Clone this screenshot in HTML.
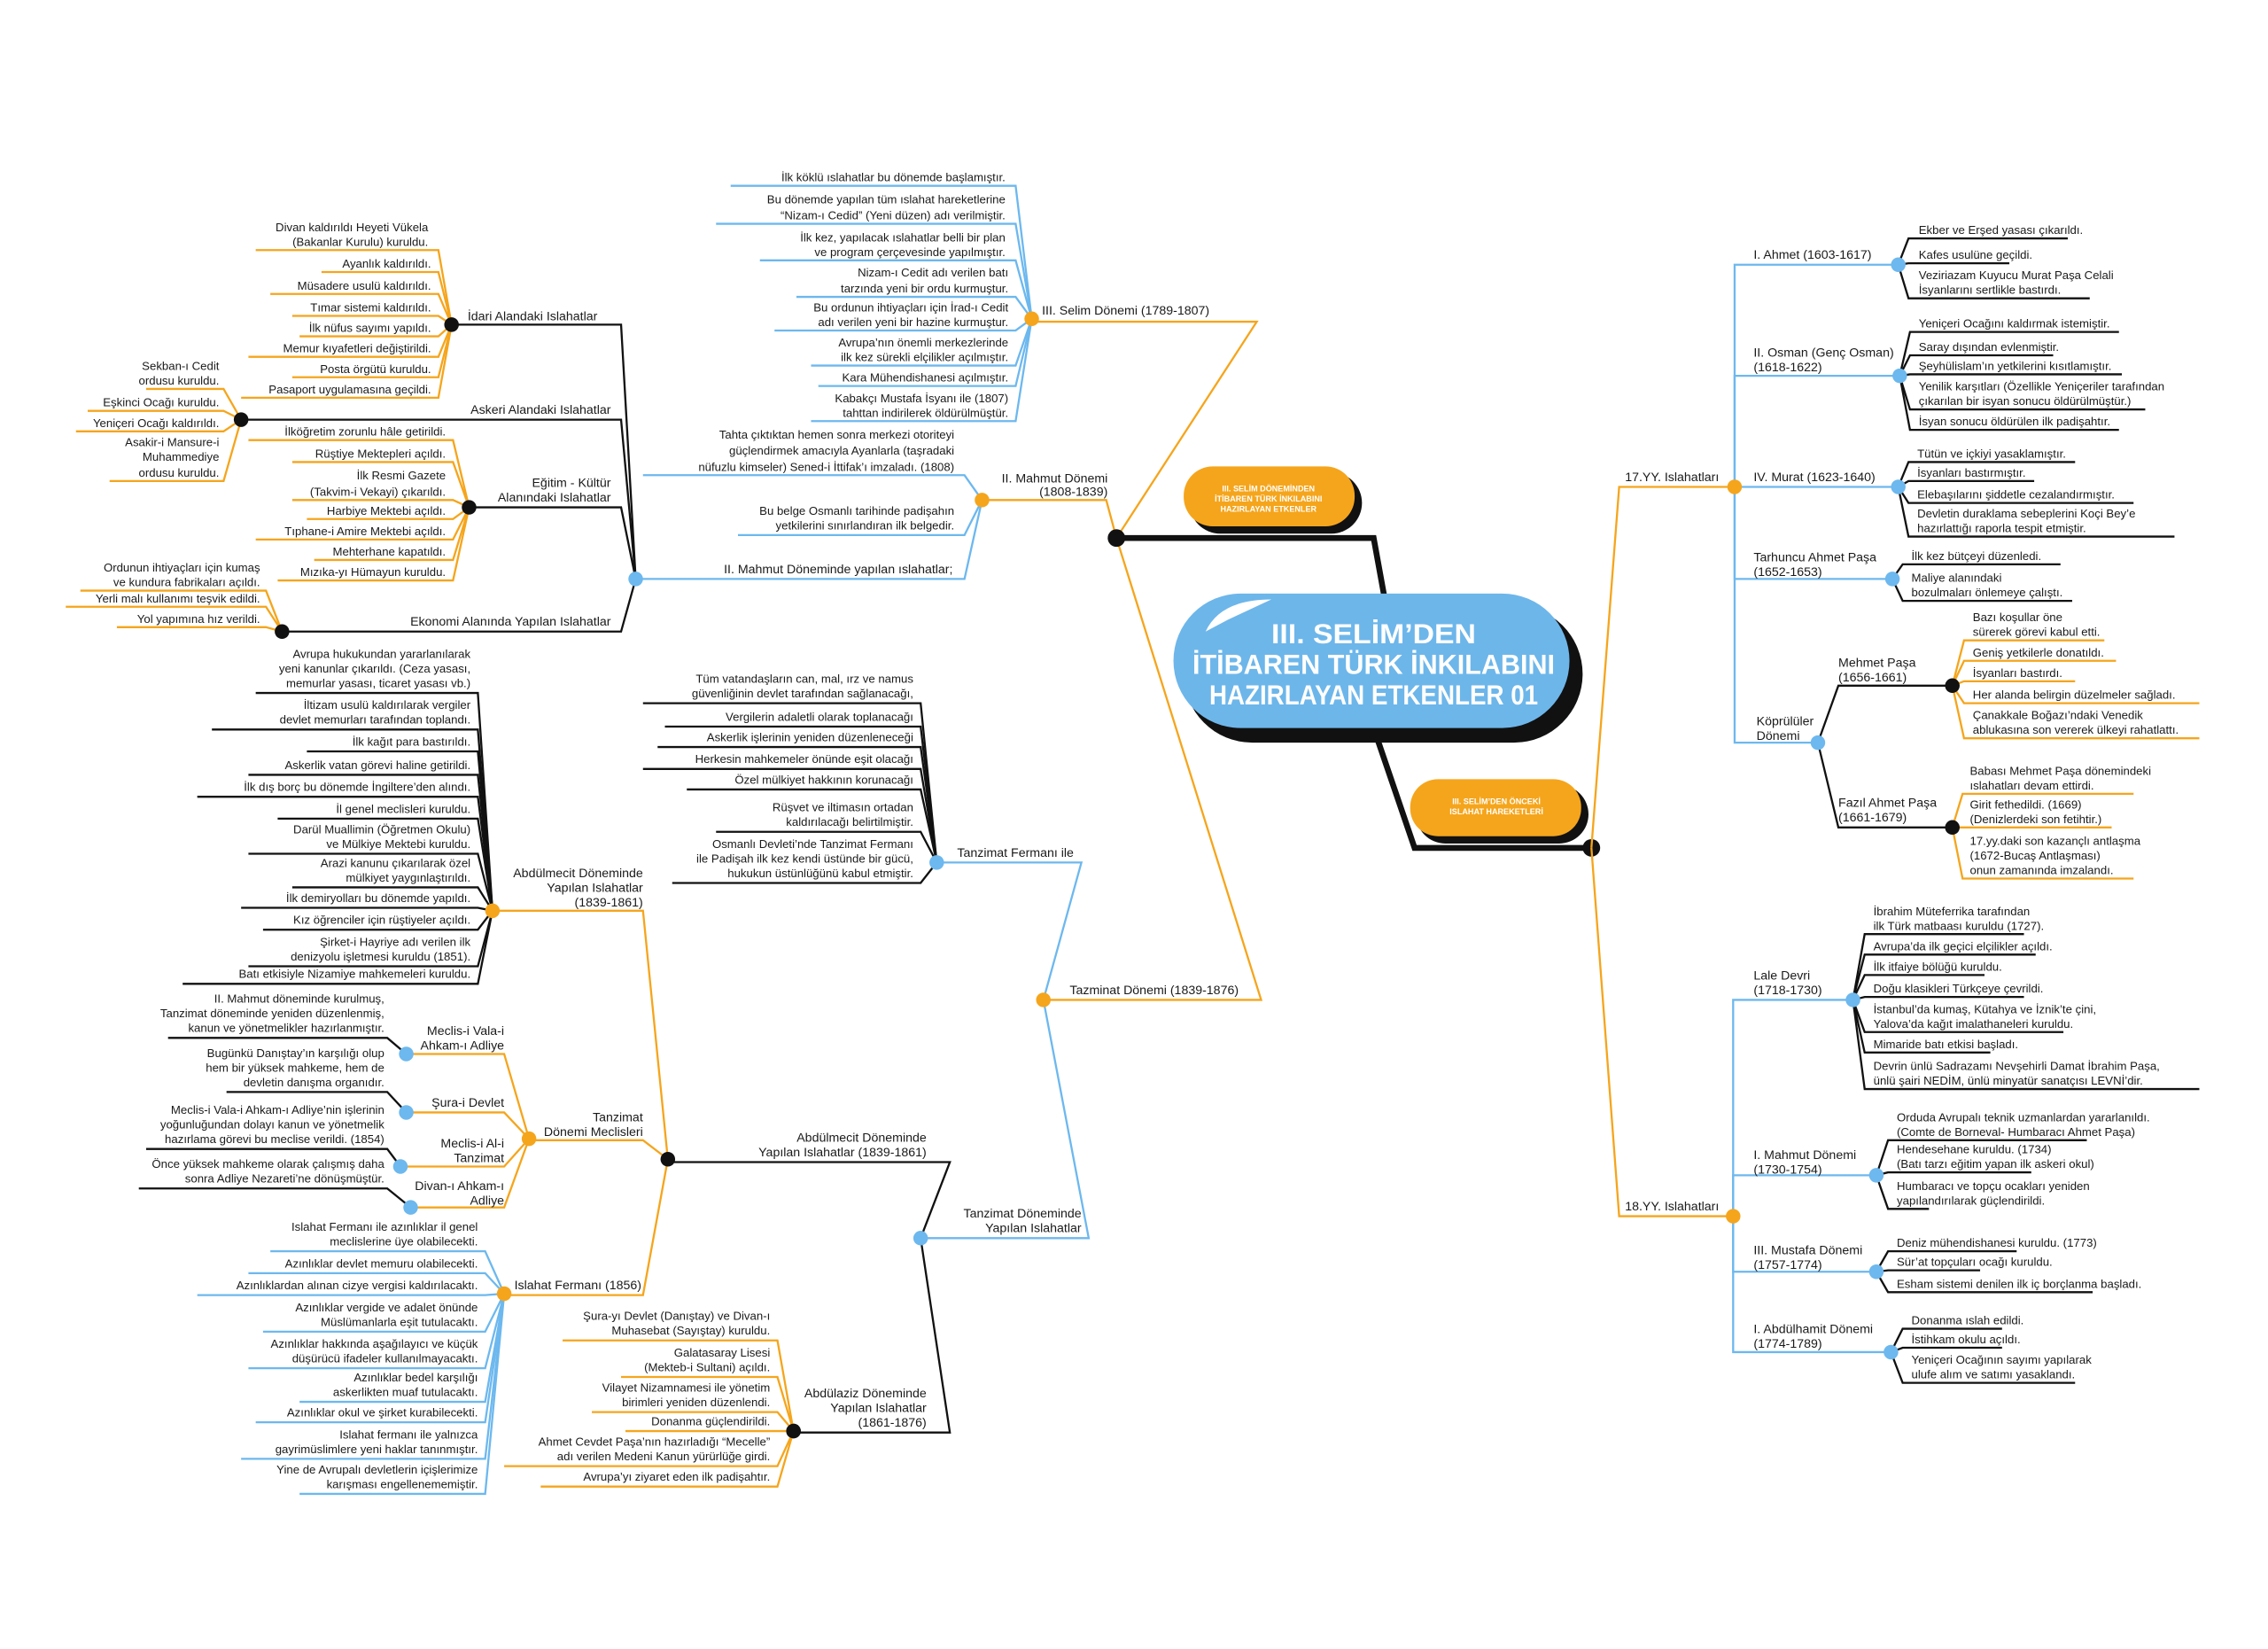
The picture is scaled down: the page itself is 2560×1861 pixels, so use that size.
<!DOCTYPE html>
<html><head><meta charset="utf-8"><style>
html,body{margin:0;padding:0;background:#fff;}
svg{display:block;}
text{font-family:"Liberation Sans",sans-serif;font-size:8px;fill:#1a1a1a;}
.l{font-size:8.6px;}
.e{text-anchor:end;}
.b{stroke:#6db8ee;fill:none;stroke-width:1.4;}
.o{stroke:#f5a51c;fill:none;stroke-width:1.4;}
.k{stroke:#111;fill:none;stroke-width:1.4;}
.K{stroke:#111;fill:none;stroke-width:4;}
.db{fill:#6db8ee;} .do{fill:#f5a51c;} .dk{fill:#111;}
.w{fill:#fff;font-weight:bold;text-anchor:middle;}
</style></head><body>
<svg width="2560" height="1861" viewBox="0 0 1552 1128" xmlns="http://www.w3.org/2000/svg">
<rect width="1552" height="1128" fill="#fff"/>

<!-- central connectors -->
<path class="o" d="M706 220 H860 L764 368"/>
<path class="o" d="M672 342 H757 L764 368"/>
<path class="o" d="M714 684 H863 L764 368"/>
<path class="K" d="M764 368 H940 L948 412"/>
<path class="K" d="M940 498 L968 580 H1089"/>
<circle class="dk" cx="764" cy="368" r="6"/>
<circle class="dk" cx="1089" cy="580" r="6"/>

<!-- central bubble -->
<rect x="810" y="414" width="273" height="94" rx="47" fill="#111"/>
<rect x="803" y="406" width="271" height="92" rx="46" fill="#6db6ea"/>
<path d="M825 432 Q835 410 870 410 L840 424 Z" fill="#fff"/>
<text class="w" x="940" y="440" style="font-size:19px" textLength="140" lengthAdjust="spacingAndGlyphs">III. SELİM’DEN</text>
<text class="w" x="940" y="461" style="font-size:19px" textLength="248" lengthAdjust="spacingAndGlyphs">İTİBAREN TÜRK İNKILABINI</text>
<text class="w" x="940" y="482" style="font-size:19px" textLength="225" lengthAdjust="spacingAndGlyphs">HAZIRLAYAN ETKENLER 01</text>

<rect x="814" y="323" width="118" height="42" rx="21" fill="#111"/>
<rect x="810" y="319" width="117" height="41" rx="20" fill="#f5a51c"/>
<text class="w" x="868" y="336" style="font-size:5.5px">III. SELİM DÖNEMİNDEN</text>
<text class="w" x="868" y="343" style="font-size:5.5px">İTİBAREN TÜRK İNKILABINI</text>
<text class="w" x="868" y="350" style="font-size:5.5px">HAZIRLAYAN ETKENLER</text>

<rect x="969" y="537" width="118" height="40" rx="20" fill="#111"/>
<rect x="965" y="533" width="117" height="39" rx="19" fill="#f5a51c"/>
<text class="w" x="1024" y="550" style="font-size:5.5px">III. SELİM’DEN ÖNCEKİ</text>
<text class="w" x="1024" y="557" style="font-size:5.5px">ISLAHAT HAREKETLERİ</text>

<!-- III. Selim -->
<text class="l" x="713" y="215">III. Selim Dönemi (1789-1807)</text>
<g class="b">
<path d="M500 127 H695 L706 218"/><path d="M490 153 H695 L706 218"/><path d="M520 178 H695 L706 218"/>
<path d="M545 203 H695 L706 218"/><path d="M530 226 H695 L706 218"/><path d="M555 250 H695 L706 218"/>
<path d="M560 264 H695 L706 218"/><path d="M555 288 H695 L706 218"/></g>
<g class="e">
<text class="e" x="688" y="124">İlk köklü ıslahatlar bu dönemde başlamıştır.</text>
<text class="e" x="688" y="139">Bu dönemde yapılan tüm ıslahat hareketlerine</text>
<text class="e" x="688" y="150">“Nizam-ı Cedid” (Yeni düzen) adı verilmiştir.</text>
<text class="e" x="688" y="165">İlk kez, yapılacak ıslahatlar belli bir plan</text>
<text class="e" x="688" y="175">ve program çerçevesinde yapılmıştır.</text>
<text class="e" x="690" y="189">Nizam-ı Cedit adı verilen batı</text>
<text class="e" x="690" y="200">tarzında yeni bir ordu kurmuştur.</text>
<text class="e" x="690" y="213">Bu ordunun ihtiyaçları için İrad-ı Cedit</text>
<text class="e" x="690" y="223">adı verilen yeni bir hazine kurmuştur.</text>
<text class="e" x="690" y="237">Avrupa’nın önemli merkezlerinde</text>
<text class="e" x="690" y="247">ilk kez sürekli elçilikler açılmıştır.</text>
<text class="e" x="690" y="261">Kara Mühendishanesi açılmıştır.</text>
<text class="e" x="690" y="275">Kabakçı Mustafa İsyanı ile (1807)</text>
<text class="e" x="690" y="285">tahttan indirilerek öldürülmüştür.</text>
</g>
<circle class="do" cx="706" cy="218" r="5"/>

<!-- II. Mahmut -->
<text class="l e" x="758" y="330">II. Mahmut  Dönemi</text>
<text class="l e" x="758" y="339">(1808-1839)</text>
<path class="b" d="M440 325 H660 L672 342"/><path class="b" d="M505 366 H660 L672 342"/><path class="b" d="M435 396 H660 L672 342"/>
<text class="e" x="653" y="300">Tahta çıktıktan hemen sonra merkezi otoriteyi</text>
<text class="e" x="653" y="311">güçlendirmek amacıyla Ayanlarla (taşradaki</text>
<text class="e" x="653" y="322">nüfuzlu kimseler) Sened-i İttifak’ı imzaladı. (1808)</text>
<text class="e" x="653" y="352">Bu belge Osmanlı tarihinde padişahın</text>
<text class="e" x="653" y="362">yetkilerini sınırlandıran ilk belgedir.</text>
<text class="e l" x="652" y="392">II. Mahmut Döneminde  yapılan ıslahatlar;</text>
<circle class="do" cx="672" cy="342" r="5"/>

<path class="k" d="M309 222 H425 L435 396"/><path class="k" d="M165 287 H425 L435 396"/>
<path class="k" d="M321 347 H425 L435 396"/><path class="k" d="M193 432 H425 L435 396"/>
<text class="l" x="320" y="219">İdari Alandaki Islahatlar</text>
<text class="l e" x="418" y="283">Askeri Alandaki Islahatlar</text>
<text class="l e" x="418" y="333">Eğitim - Kültür</text>
<text class="l e" x="418" y="343">Alanındaki Islahatlar</text>
<text class="l e" x="418" y="428">Ekonomi Alanında  Yapılan Islahatlar</text>
<circle class="db" cx="435" cy="396" r="5"/>

<g class="o">
<path d="M175 171 H300 L309 222"/><path d="M220 186 H300 L309 222"/><path d="M185 201 H300 L309 222"/>
<path d="M200 216 H300 L309 222"/><path d="M205 230 H300 L309 222"/><path d="M170 244 H300 L309 222"/>
<path d="M200 258 H300 L309 222"/><path d="M165 272 H300 L309 222"/>
<path d="M100 266 H153 L165 287"/><path d="M60 281 H153 L165 287"/><path d="M52 295 H153 L165 287"/><path d="M75 329 H153 L165 287"/>
<path d="M170 301 H310 L321 347"/><path d="M200 316 H310 L321 347"/><path d="M200 342 H310 L321 347"/>
<path d="M210 355 H310 L321 347"/><path d="M175 369 H310 L321 347"/><path d="M215 383 H310 L321 347"/><path d="M190 397 H310 L321 347"/>
<path d="M55 404 H182 L193 432"/><path d="M45 415 H182 L193 432"/><path d="M80 429 H182 L193 432"/>
</g>
<text class="e" x="293" y="158">Divan kaldırıldı Heyeti Vükela</text>
<text class="e" x="293" y="168">(Bakanlar Kurulu) kuruldu.</text>
<text class="e" x="295" y="183">Ayanlık kaldırıldı.</text>
<text class="e" x="295" y="198">Müsadere usulü kaldırıldı.</text>
<text class="e" x="295" y="213">Tımar sistemi kaldırıldı.</text>
<text class="e" x="295" y="227">İlk nüfus sayımı yapıldı.</text>
<text class="e" x="295" y="241">Memur kıyafetleri değiştirildi.</text>
<text class="e" x="295" y="255">Posta örgütü kuruldu.</text>
<text class="e" x="295" y="269">Pasaport uygulamasına geçildi.</text>
<text class="e" x="150" y="253">Sekban-ı Cedit</text>
<text class="e" x="150" y="263">ordusu kuruldu.</text>
<text class="e" x="150" y="278">Eşkinci Ocağı kuruldu.</text>
<text class="e" x="150" y="292">Yeniçeri Ocağı kaldırıldı.</text>
<text class="e" x="150" y="305">Asakir-i Mansure-i</text>
<text class="e" x="150" y="315">Muhammediye</text>
<text class="e" x="150" y="326">ordusu kuruldu.</text>
<text class="e" x="305" y="298">İlköğretim zorunlu hâle getirildi.</text>
<text class="e" x="305" y="313">Rüştiye Mektepleri açıldı.</text>
<text class="e" x="305" y="328">İlk  Resmi Gazete</text>
<text class="e" x="305" y="339">(Takvim-i Vekayi) çıkarıldı.</text>
<text class="e" x="305" y="352">Harbiye Mektebi açıldı.</text>
<text class="e" x="305" y="366">Tıphane-i Amire Mektebi açıldı.</text>
<text class="e" x="305" y="380">Mehterhane kapatıldı.</text>
<text class="e" x="305" y="394">Mızıka-yı Hümayun kuruldu.</text>
<text class="e" x="178" y="391">Ordunun ihtiyaçları için kumaş</text>
<text class="e" x="178" y="401">ve kundura fabrikaları açıldı.</text>
<text class="e" x="178" y="412">Yerli malı kullanımı teşvik edildi.</text>
<text class="e" x="178" y="426">Yol yapımına hız verildi.</text>
<circle class="dk" cx="309" cy="222" r="5"/><circle class="dk" cx="165" cy="287" r="5"/>
<circle class="dk" cx="321" cy="347" r="5"/><circle class="dk" cx="193" cy="432" r="5"/>

<!-- Tazminat -->
<text class="l" x="732" y="680">Tazminat Dönemi (1839-1876)</text>
<path class="b" d="M641 590 H740 L714 684"/><path class="b" d="M630 847 H745 L714 684"/>
<text class="l" x="655" y="586">Tanzimat Fermanı ile</text>
<text class="l e" x="740" y="833">Tanzimat Döneminde</text>
<text class="l e" x="740" y="843">Yapılan Islahatlar</text>
<g class="k">
<path d="M440 481 H630 L641 590"/><path d="M455 497 H630 L641 590"/><path d="M450 511 H630 L641 590"/>
<path d="M440 526 H630 L641 590"/><path d="M470 540 H630 L641 590"/><path d="M490 569 H630 L641 590"/><path d="M460 604 H630 L641 590"/>
</g>
<text class="e" x="625" y="467">Tüm vatandaşların can, mal, ırz ve namus</text>
<text class="e" x="625" y="477">güvenliğinin devlet tarafından sağlanacağı,</text>
<text class="e" x="625" y="493">Vergilerin adaletli olarak toplanacağı</text>
<text class="e" x="625" y="507">Askerlik işlerinin yeniden düzenleneceği</text>
<text class="e" x="625" y="522">Herkesin mahkemeler önünde eşit olacağı</text>
<text class="e" x="625" y="536">Özel mülkiyet hakkının korunacağı</text>
<text class="e" x="625" y="555">Rüşvet ve iltimasın ortadan</text>
<text class="e" x="625" y="565">kaldırılacağı belirtilmiştir.</text>
<text class="e" x="625" y="580">Osmanlı Devleti’nde Tanzimat Fermanı</text>
<text class="e" x="625" y="590">ile Padişah ilk kez kendi üstünde bir gücü,</text>
<text class="e" x="625" y="600">hukukun üstünlüğünü kabul etmiştir.</text>
<circle class="db" cx="641" cy="590" r="5"/><circle class="do" cx="714" cy="684" r="5"/>

<path class="k" d="M457 795 H650 L630 847"/><path class="k" d="M543 980 H650 L630 847"/>
<text class="l e" x="634" y="781">Abdülmecit Döneminde</text>
<text class="l e" x="634" y="791">Yapılan Islahatlar (1839-1861)</text>
<text class="l e" x="634" y="956">Abdülaziz Döneminde</text>
<text class="l e" x="634" y="966">Yapılan Islahatlar</text>
<text class="l e" x="634" y="976">(1861-1876)</text>
<circle class="db" cx="630" cy="847" r="5"/>

<path class="o" d="M337 623 H440 L457 793"/><path class="o" d="M362 780 H440 L457 793"/><path class="o" d="M345 886 H440 L457 793"/>
<text class="l e" x="440" y="600">Abdülmecit Döneminde</text>
<text class="l e" x="440" y="610">Yapılan Islahatlar</text>
<text class="l e" x="440" y="620">(1839-1861)</text>
<text class="l e" x="440" y="767">Tanzimat</text>
<text class="l e" x="440" y="777">Dönemi Meclisleri</text>
<text class="l" x="352" y="882">Islahat Fermanı (1856)</text>
<circle class="dk" cx="457" cy="793" r="5"/><circle class="dk" cx="543" cy="979" r="5"/>

<g class="k">
<path d="M175 474 H327 L337 623"/><path d="M145 499 H327 L337 623"/><path d="M210 514 H327 L337 623"/>
<path d="M170 530 H327 L337 623"/><path d="M135 545 H327 L337 623"/><path d="M190 560 H327 L337 623"/>
<path d="M170 584 H327 L337 623"/><path d="M200 607 H327 L337 623"/><path d="M165 621 H327 L337 623"/>
<path d="M180 636 H327 L337 623"/><path d="M170 661 H327 L337 623"/><path d="M125 673 H327 L337 623"/>
</g>
<text class="e" x="322" y="450">Avrupa hukukundan yararlanılarak</text>
<text class="e" x="322" y="460">yeni kanunlar çıkarıldı. (Ceza yasası,</text>
<text class="e" x="322" y="470">memurlar yasası, ticaret yasası vb.)</text>
<text class="e" x="322" y="485">İltizam usulü kaldırılarak vergiler</text>
<text class="e" x="322" y="495">devlet memurları tarafından toplandı.</text>
<text class="e" x="322" y="510">İlk kağıt para bastırıldı.</text>
<text class="e" x="322" y="526">Askerlik vatan görevi haline getirildi.</text>
<text class="e" x="322" y="541">İlk dış borç bu dönemde İngiltere’den alındı.</text>
<text class="e" x="322" y="556">İl genel meclisleri kuruldu.</text>
<text class="e" x="322" y="570">Darül Muallimin (Öğretmen Okulu)</text>
<text class="e" x="322" y="580">ve Mülkiye Mektebi kuruldu.</text>
<text class="e" x="322" y="593">Arazi kanunu çıkarılarak özel</text>
<text class="e" x="322" y="603">mülkiyet yaygınlaştırıldı.</text>
<text class="e" x="322" y="617">İlk demiryolları bu dönemde yapıldı.</text>
<text class="e" x="322" y="632">Kız öğrenciler için rüştiyeler açıldı.</text>
<text class="e" x="322" y="647">Şirket-i Hayriye adı verilen ilk</text>
<text class="e" x="322" y="657">denizyolu işletmesi kuruldu (1851).</text>
<text class="e" x="322" y="669">Batı etkisiyle Nizamiye mahkemeleri kuruldu.</text>
<circle class="do" cx="337" cy="623" r="5"/>

<path class="o" d="M278 721 H345 L362 779"/><path class="o" d="M278 761 H345 L362 779"/>
<path class="o" d="M274 798 H345 L362 779"/><path class="o" d="M281 826 H345 L362 779"/>
<text class="l e" x="345" y="708">Meclis-i Vala-i</text>
<text class="l e" x="345" y="718">Ahkam-ı Adliye</text>
<text class="l e" x="345" y="757">Şura-i Devlet</text>
<text class="l e" x="345" y="785">Meclis-i Al-i</text>
<text class="l e" x="345" y="795">Tanzimat</text>
<text class="l e" x="345" y="814">Divan-ı Ahkam-ı</text>
<text class="l e" x="345" y="824">Adliye</text>
<g class="k">
<path d="M115 710 H265 L278 721"/><path d="M155 747 H265 L278 761"/>
<path d="M100 786 H265 L274 798"/><path d="M95 813 H265 L281 826"/>
</g>
<text class="e" x="263" y="686">II. Mahmut döneminde kurulmuş,</text>
<text class="e" x="263" y="696">Tanzimat döneminde yeniden düzenlenmiş,</text>
<text class="e" x="263" y="706">kanun ve yönetmelikler hazırlanmıştır.</text>
<text class="e" x="263" y="723">Bugünkü Danıştay’ın karşılığı olup</text>
<text class="e" x="263" y="733">hem bir yüksek mahkeme, hem de</text>
<text class="e" x="263" y="743">devletin danışma organıdır.</text>
<text class="e" x="263" y="762">Meclis-i Vala-i Ahkam-ı Adliye’nin işlerinin</text>
<text class="e" x="263" y="772">yoğunluğundan dolayı kanun ve yönetmelik</text>
<text class="e" x="263" y="782">hazırlama görevi bu meclise verildi. (1854)</text>
<text class="e" x="263" y="799">Önce yüksek mahkeme olarak çalışmış daha</text>
<text class="e" x="263" y="809">sonra Adliye Nezareti’ne dönüşmüştür.</text>
<circle class="db" cx="278" cy="721" r="5"/><circle class="db" cx="278" cy="761" r="5"/>
<circle class="db" cx="274" cy="798" r="5"/><circle class="db" cx="281" cy="826" r="5"/>
<circle class="do" cx="362" cy="779" r="5"/>

<g class="b">
<path d="M185 856 H332 L345 885"/><path d="M170 871 H332 L345 885"/><path d="M135 886 H332 L345 885"/>
<path d="M180 911 H332 L345 885"/><path d="M170 936 H332 L345 885"/><path d="M205 959 H332 L345 885"/>
<path d="M175 973 H332 L345 885"/><path d="M165 998 H332 L345 885"/><path d="M205 1022 H332 L345 885"/>
</g>
<text class="e" x="327" y="842">Islahat Fermanı ile azınlıklar il genel</text>
<text class="e" x="327" y="852">meclislerine üye olabilecekti.</text>
<text class="e" x="327" y="867">Azınlıklar devlet memuru olabilecekti.</text>
<text class="e" x="327" y="882">Azınlıklardan alınan cizye vergisi kaldırılacaktı.</text>
<text class="e" x="327" y="897">Azınlıklar vergide ve adalet önünde</text>
<text class="e" x="327" y="907">Müslümanlarla eşit tutulacaktı.</text>
<text class="e" x="327" y="922">Azınlıklar hakkında aşağılayıcı ve küçük</text>
<text class="e" x="327" y="932">düşürücü ifadeler kullanılmayacaktı.</text>
<text class="e" x="327" y="945">Azınlıklar bedel karşılığı</text>
<text class="e" x="327" y="955">askerlikten muaf tutulacaktı.</text>
<text class="e" x="327" y="969">Azınlıklar okul ve şirket kurabilecekti.</text>
<text class="e" x="327" y="984">Islahat fermanı ile yalnızca</text>
<text class="e" x="327" y="994">gayrimüslimlere yeni haklar tanınmıştır.</text>
<text class="e" x="327" y="1008">Yine de Avrupalı devletlerin  içişlerimize</text>
<text class="e" x="327" y="1018">karışması engellenememiştir.</text>
<circle class="do" cx="345" cy="885" r="5"/>

<g class="o">
<path d="M385 917 H532 L543 979"/><path d="M425 942 H532 L543 979"/><path d="M405 966 H532 L543 979"/>
<path d="M428 979 H532 L543 979"/><path d="M345 1003 H532 L543 979"/><path d="M370 1017 H532 L543 979"/>
</g>
<text class="e" x="527" y="903">Şura-yı Devlet (Danıştay) ve Divan-ı</text>
<text class="e" x="527" y="913">Muhasebat (Sayıştay) kuruldu.</text>
<text class="e" x="527" y="928">Galatasaray Lisesi</text>
<text class="e" x="527" y="938">(Mekteb-i Sultani) açıldı.</text>
<text class="e" x="527" y="952">Vilayet Nizamnamesi ile yönetim</text>
<text class="e" x="527" y="962">birimleri yeniden düzenlendi.</text>
<text class="e" x="527" y="975">Donanma güçlendirildi.</text>
<text class="e" x="527" y="989">Ahmet Cevdet Paşa’nın hazırladığı “Mecelle”</text>
<text class="e" x="527" y="999">adı verilen Medeni Kanun yürürlüğe girdi.</text>
<text class="e" x="527" y="1013">Avrupa’yı ziyaret eden ilk padişahtır.</text>
<circle class="dk" cx="543" cy="979" r="5"/>

<!-- Right side -->
<path class="o" d="M1089 580 L1108 333 H1187"/><path class="o" d="M1089 580 L1108 832 H1186"/>
<text class="l" x="1112" y="329">17.YY. Islahatları</text>
<text class="l" x="1112" y="828">18.YY. Islahatları</text>

<g class="b">
<path d="M1187 333 V181 H1299"/><path d="M1187 333 V257 H1300"/><path d="M1187 333 H1299"/>
<path d="M1187 333 V396 H1295"/><path d="M1187 333 V508 H1244"/>
<path d="M1186 832 V684 H1268"/><path d="M1186 832 V804 H1284"/><path d="M1186 832 V870 H1284"/><path d="M1186 832 V925 H1294"/>
</g>
<text class="l" x="1200" y="177">I. Ahmet (1603-1617)</text>
<text class="l" x="1200" y="244">II. Osman (Genç Osman)</text>
<text class="l" x="1200" y="254">(1618-1622)</text>
<text class="l" x="1200" y="329">IV. Murat (1623-1640)</text>
<text class="l" x="1200" y="384">Tarhuncu Ahmet Paşa</text>
<text class="l" x="1200" y="394">(1652-1653)</text>
<text class="l" x="1202" y="496">Köprülüler</text>
<text class="l" x="1202" y="506">Dönemi</text>
<text class="l" x="1200" y="670">Lale Devri</text>
<text class="l" x="1200" y="680">(1718-1730)</text>
<text class="l" x="1200" y="793">I. Mahmut Dönemi</text>
<text class="l" x="1200" y="803">(1730-1754)</text>
<text class="l" x="1200" y="858">III. Mustafa Dönemi</text>
<text class="l" x="1200" y="868">(1757-1774)</text>
<text class="l" x="1200" y="912">I. Abdülhamit Dönemi</text>
<text class="l" x="1200" y="922">(1774-1789)</text>

<g class="k">
<path d="M1299 181 L1306 163 H1415"/><path d="M1299 181 L1306 180 H1375"/><path d="M1299 181 L1306 204 H1430"/>
<path d="M1300 257 L1307 227 H1450"/><path d="M1300 257 L1307 243 H1405"/><path d="M1300 257 L1307 256 H1452"/>
<path d="M1300 257 L1307 280 H1468"/><path d="M1300 257 L1307 294 H1450"/>
<path d="M1299 333 L1306 316 H1420"/><path d="M1299 333 L1306 329 H1392"/><path d="M1299 333 L1306 344 H1460"/><path d="M1299 333 L1306 367 H1488"/>
<path d="M1295 396 L1302 386 H1410"/><path d="M1295 396 L1302 411 H1418"/>
<path d="M1244 508 L1258 469 H1336"/><path d="M1244 508 L1258 566 H1336"/>
<path d="M1268 684 L1276 639 H1385"/><path d="M1268 684 L1276 653 H1393"/><path d="M1268 684 L1276 667 H1358"/>
<path d="M1268 684 L1276 682 H1385"/><path d="M1268 684 L1276 706 H1412"/><path d="M1268 684 L1276 720 H1362"/><path d="M1268 684 L1276 745 H1505"/>
<path d="M1284 804 L1292 780 H1428"/><path d="M1284 804 L1292 802 H1390"/><path d="M1284 804 L1292 827 H1320"/>
<path d="M1284 870 L1292 856 H1380"/><path d="M1284 870 L1292 869 H1355"/><path d="M1284 870 L1292 884 H1432"/>
<path d="M1294 925 L1302 909 H1370"/><path d="M1294 925 L1302 922 H1370"/><path d="M1294 925 L1302 946 H1420"/>
</g>
<g class="o">
<path d="M1336 469 L1344 438 H1440"/><path d="M1336 469 L1344 452 H1448"/><path d="M1336 469 L1344 466 H1420"/>
<path d="M1336 469 L1344 481 H1505"/><path d="M1336 469 L1344 505 H1505"/>
<path d="M1336 566 L1343 543 H1460"/><path d="M1336 566 L1343 566 H1445"/><path d="M1336 566 L1343 601 H1460"/>
</g>
<text class="l" x="1258" y="456">Mehmet Paşa</text>
<text class="l" x="1258" y="466">(1656-1661)</text>
<text class="l" x="1258" y="552">Fazıl Ahmet Paşa</text>
<text class="l" x="1258" y="562">(1661-1679)</text>

<text x="1313" y="160">Ekber ve Erşed yasası çıkarıldı.</text>
<text x="1313" y="177">Kafes usulüne geçildi.</text>
<text x="1313" y="191">Veziriazam Kuyucu Murat Paşa Celali</text>
<text x="1313" y="201">İsyanlarını sertlikle bastırdı.</text>
<text x="1313" y="224">Yeniçeri Ocağını kaldırmak istemiştir.</text>
<text x="1313" y="240">Saray dışından evlenmiştir.</text>
<text x="1313" y="253">Şeyhülislam’ın yetkilerini kısıtlamıştır.</text>
<text x="1313" y="267">Yenilik karşıtları (Özellikle Yeniçeriler tarafından</text>
<text x="1313" y="277">çıkarılan bir isyan sonucu öldürülmüştür.)</text>
<text x="1313" y="291">İsyan sonucu öldürülen ilk padişahtır.</text>
<text x="1312" y="313">Tütün ve içkiyi yasaklamıştır.</text>
<text x="1312" y="326">İsyanları bastırmıştır.</text>
<text x="1312" y="341">Elebaşılarını şiddetle cezalandırmıştır.</text>
<text x="1312" y="354">Devletin duraklama sebeplerini Koçi Bey’e</text>
<text x="1312" y="364">hazırlattığı raporla tespit etmiştir.</text>
<text x="1308" y="383">İlk kez bütçeyi düzenledi.</text>
<text x="1308" y="398">Maliye alanındaki</text>
<text x="1308" y="408">bozulmaları önlemeye çalıştı.</text>
<text x="1350" y="425">Bazı koşullar öne</text>
<text x="1350" y="435">sürerek görevi kabul etti.</text>
<text x="1350" y="449">Geniş yetkilerle donatıldı.</text>
<text x="1350" y="463">İsyanları bastırdı.</text>
<text x="1350" y="478">Her alanda belirgin düzelmeler sağladı.</text>
<text x="1350" y="492">Çanakkale Boğazı’ndaki Venedik</text>
<text x="1350" y="502">ablukasına son vererek ülkeyi rahatlattı.</text>
<text x="1348" y="530">Babası Mehmet Paşa dönemindeki</text>
<text x="1348" y="540">ıslahatları devam ettirdi.</text>
<text x="1348" y="553">Girit fethedildi. (1669)</text>
<text x="1348" y="563">(Denizlerdeki son fetihtir.)</text>
<text x="1348" y="578">17.yy.daki son kazançlı antlaşma</text>
<text x="1348" y="588">(1672-Bucaş Antlaşması)</text>
<text x="1348" y="598">onun zamanında imzalandı.</text>

<text x="1282" y="626">İbrahim Müteferrika tarafından</text>
<text x="1282" y="636">ilk Türk matbaası kuruldu (1727).</text>
<text x="1282" y="650">Avrupa’da ilk geçici elçilikler açıldı.</text>
<text x="1282" y="664">İlk itfaiye bölüğü kuruldu.</text>
<text x="1282" y="679">Doğu klasikleri Türkçeye çevrildi.</text>
<text x="1282" y="693">İstanbul’da kumaş, Kütahya ve İznik’te çini,</text>
<text x="1282" y="703">Yalova’da kağıt imalathaneleri kuruldu.</text>
<text x="1282" y="717">Mimaride batı etkisi başladı.</text>
<text x="1282" y="732">Devrin ünlü Sadrazamı Nevşehirli Damat İbrahim Paşa,</text>
<text x="1282" y="742">ünlü şairi NEDİM, ünlü minyatür sanatçısı LEVNİ’dir.</text>
<text x="1298" y="767">Orduda Avrupalı teknik uzmanlardan yararlanıldı.</text>
<text x="1298" y="777">(Comte de Borneval- Humbaracı Ahmet Paşa)</text>
<text x="1298" y="789">Hendesehane kuruldu. (1734)</text>
<text x="1298" y="799">(Batı tarzı eğitim yapan ilk askeri okul)</text>
<text x="1298" y="814">Humbaracı ve topçu ocakları yeniden</text>
<text x="1298" y="824">yapılandırılarak güçlendirildi.</text>
<text x="1298" y="853">Deniz mühendishanesi kuruldu. (1773)</text>
<text x="1298" y="866">Sür’at topçuları ocağı kuruldu.</text>
<text x="1298" y="881">Esham sistemi denilen ilk iç borçlanma başladı.</text>
<text x="1308" y="906">Donanma ıslah edildi.</text>
<text x="1308" y="919">İstihkam okulu açıldı.</text>
<text x="1308" y="933">Yeniçeri Ocağının sayımı yapılarak</text>
<text x="1308" y="943">ulufe alım ve satımı yasaklandı.</text>

<circle class="do" cx="1187" cy="333" r="5"/><circle class="do" cx="1186" cy="832" r="5"/>
<circle class="db" cx="1299" cy="181" r="5"/><circle class="db" cx="1300" cy="257" r="5"/>
<circle class="db" cx="1299" cy="333" r="5"/><circle class="db" cx="1295" cy="396" r="5"/>
<circle class="db" cx="1244" cy="508" r="5"/><circle class="dk" cx="1336" cy="469" r="5"/><circle class="dk" cx="1336" cy="566" r="5"/>
<circle class="db" cx="1268" cy="684" r="5"/><circle class="db" cx="1284" cy="804" r="5"/>
<circle class="db" cx="1284" cy="870" r="5"/><circle class="db" cx="1294" cy="925" r="5"/>
</svg>
</body></html>
